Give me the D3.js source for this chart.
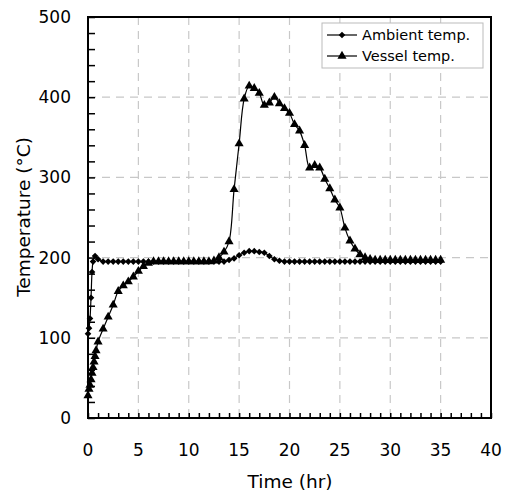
<!DOCTYPE html>
<html><head><meta charset="utf-8">
<script src="https://cdn.jsdelivr.net/npm/d3@7"></script>
<style>body{margin:0;background:#fff}svg{display:block}text{font-family:"DejaVu Sans",sans-serif}</style>
</head><body><svg id="c" width="506" height="493"></svg>
<script>
const xTicks=[0,5,10,15,20,25,30,35,40];
const yTicks=[0,100,200,300,400,500];
const ambientTime=[0,0.1,0.2,0.3,0.4,0.5,0.7,1,1.5,2,2.5,3,3.5,4,4.5,5,5.5,6,6.5,7,7.5,8,8.5,9,9.5,10,10.5,11,11.5,12,12.5,13,13.5,14,14.5,15,15.5,16,16.5,17,17.5,18,18.5,19,19.5,20,20.5,21,21.5,22,22.5,23,23.5,24,24.5,25,25.5,26,26.5,27,27.5,28,28.5,29,29.5,30,30.5,31,31.5,32,32.5,33,33.5,34,34.5,35];
const ambientTemp=[105,112,124,150,182,195,202,198,195,195,195,195,195,195,195,195,195,195,195,195,195,195,195,195,195,195,195,195,195,195,195,195,195,197,199,203,206,208,208,207,206,202,198,196,195,195,195,195,195,195,195,195,195,195,195,195,195,195,195,195,195,195,195,195,195,195,195,195,195,195,195,195,195,195,195,195];
const vesselTime=[0,0.1,0.2,0.3,0.4,0.5,0.6,0.7,0.8,1,1.5,2,2.5,3,3.5,4,4.5,5,5.5,6,6.5,7,7.5,8,8.5,9,9.5,10,10.5,11,11.5,12,12.5,13,13.5,14,14.5,15,15.5,16,16.5,17,17.5,18,18.5,19,19.5,20,20.5,21,21.5,22,22.5,23,23.5,24,24.5,25,25.5,26,26.5,27,27.5,28,28.5,29,29.5,30,30.5,31,31.5,32,32.5,33,33.5,34,34.5,35];
const vesselTemp=[28,36,41,48,56,63,70,77,84,95,111,126,141,158,165,170,176,183,189,193,195,195,195,195,195,195,195,195,195,195,195,195,196,200,207,220,285,342,398,414,411,405,390,393,400,392,386,380,366,358,340,312,315,312,298,286,272,262,237,221,211,204,200,198,197,197,197,197,197,197,197,197,197,197,197,197,197,197];
const svg=d3.select("#c");
const L=88,R=491,T=17,B=418;
const x=d3.scaleLinear().domain([0,40]).range([L,R]);
const y=d3.scaleLinear().domain([0,500]).range([B,T]);
const g=svg.append("g");
g.selectAll(".gx").data(xTicks.filter(d=>d>0&&d<40)).join("line")
 .attr("x1",d=>x(d)).attr("x2",d=>x(d)).attr("y1",T).attr("y2",B)
 .attr("stroke","#c8c8c8").attr("stroke-width",1.2).attr("stroke-dasharray","8,6");
g.selectAll(".gy").data(yTicks.filter(d=>d>0&&d<500)).join("line")
 .attr("y1",d=>y(d)).attr("y2",d=>y(d)).attr("x1",L).attr("x2",R)
 .attr("stroke","#c8c8c8").attr("stroke-width",1.2).attr("stroke-dasharray","8,6");
const xa=d3.axisBottom(x).ticks(40).tickSize(-5).tickFormat("");
const ya=d3.axisLeft(y).ticks(25).tickSize(-7).tickFormat("");
const gx=svg.append("g").attr("transform",`translate(0,${B})`).call(xa);
const gy=svg.append("g").attr("transform",`translate(${L},0)`).call(ya);
[gx,gy].forEach(a=>{a.select(".domain").remove();a.selectAll("line").attr("stroke","#000").attr("stroke-width",1.5);});
svg.selectAll(".xl").data(xTicks).join("text").attr("x",d=>x(d)).attr("y",456)
 .attr("text-anchor","middle").attr("font-size",17).text(d=>d);
svg.selectAll(".yl").data(yTicks).join("text").attr("x",71).attr("y",d=>y(d)+6)
 .attr("text-anchor","end").attr("font-size",17).text(d=>d);
svg.append("rect").attr("x",L).attr("y",T).attr("width",R-L).attr("height",B-T)
 .attr("fill","none").attr("stroke","#000").attr("stroke-width",2);
svg.append("text").attr("x",290).attr("y",488).attr("text-anchor","middle").attr("font-size",18.5).text("Time (hr)");
svg.append("text").attr("transform","translate(30,217) rotate(-90)").attr("text-anchor","middle").attr("font-size",18.5).text("Temperature (°C)");
const amb=ambientTime.map((t,i)=>[t,ambientTemp[i]]);
const ves=vesselTime.map((t,i)=>[t,vesselTemp[i]]);
const line=d3.line().x(d=>x(d[0])).y(d=>y(d[1])).curve(d3.curveCatmullRom.alpha(0.5));
svg.append("path").attr("d",line(amb)).attr("fill","none").attr("stroke","#000").attr("stroke-width",1.2);
svg.append("path").attr("d",line(ves)).attr("fill","none").attr("stroke","#000").attr("stroke-width",1.2);
const dia=d3.symbol().type(d3.symbolDiamond2).size(28);
const tri=d3.symbol().type(d3.symbolTriangle).size(36);
svg.selectAll(".a").data(amb).join("path").attr("d",dia).attr("transform",d=>`translate(${x(d[0])},${y(d[1])})`).attr("fill","#000");
svg.selectAll(".v").data(ves).join("path").attr("d",tri).attr("transform",d=>`translate(${x(d[0])},${y(d[1])})`).attr("fill","#000");
const lg=svg.append("g");
lg.append("rect").attr("x",322).attr("y",23).attr("width",161).attr("height",45).attr("fill","#fff").attr("stroke","#bbb").attr("stroke-width",1);
[["Ambient temp.",dia,35],["Vessel temp.",tri,56]].forEach(([t,s,yy])=>{
 lg.append("line").attr("x1",327).attr("x2",357).attr("y1",yy).attr("y2",yy).attr("stroke","#000").attr("stroke-width",1.2);
 lg.append("path").attr("d",s).attr("transform",`translate(342,${yy})`).attr("fill","#000");
 lg.append("text").attr("x",362).attr("y",yy+5).attr("font-size",14.5).text(t);
});
</script></body></html>
